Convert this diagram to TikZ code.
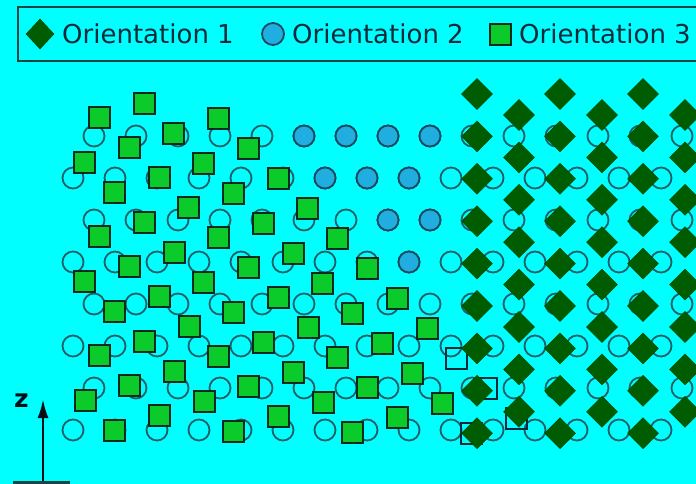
\documentclass[tikz,border=0pt]{standalone}
\usepackage{fontspec}
\setmainfont{DejaVu Sans}
\usetikzlibrary{arrows.meta,shapes.geometric}
\definecolor{bgc}{HTML}{00FFFF}
\definecolor{ringc}{HTML}{1F5F66}
\definecolor{bluef}{HTML}{20ADE0}
\definecolor{bluel}{HTML}{1A4A60}
\definecolor{greenf}{HTML}{0BCB2B}
\definecolor{greenl}{HTML}{0A2A20}
\definecolor{diaf}{HTML}{005C00}
\definecolor{txtc}{HTML}{0F2A3A}
\definecolor{axc}{HTML}{050F1A}
\definecolor{boxc}{HTML}{1A4545}
\definecolor{hollowc}{HTML}{102838}
\tikzset{
  ring/.style={circle, draw=ringc, line width=1.8pt, inner sep=0pt, minimum size=21pt},
  bluering/.style={circle, draw=bluel, fill=bluef, line width=1.8pt, inner sep=0pt, minimum size=21pt},
  sq/.style={rectangle, draw=greenl, fill=greenf, line width=2pt, inner sep=0pt, minimum size=21pt},
  hollowsq/.style={rectangle, draw=hollowc, line width=2pt, inner sep=0pt, minimum size=21pt},
  dia/.style={diamond, fill=diaf, draw=diaf!85!black, line width=0.6pt, inner sep=0pt, minimum width=31pt, minimum height=31pt},
  legtext/.style={anchor=base west, inner sep=0pt, text=txtc, font=\fontsize{26}{30}\selectfont}
}
\begin{document}
\begin{tikzpicture}[x=1pt,y=-1pt]
\fill[bgc] (0,0) rectangle (696,484);
\useasboundingbox (0,0) rectangle (696,484);

% lattice of hollow circles
\foreach \r in {0,2,4,6} {
  \foreach \k in {0,...,14} {
    \node[ring] at ({94+42*\k},{136+42*\r}) {};
  }
}
\foreach \r in {1,3,5,7} {
  \foreach \k in {0,...,14} {
    \node[ring] at ({73+42*\k},{136+42*\r}) {};
  }
}
% orientation 2 (blue circles)
\foreach \x/\y in {304/136,346/136,388/136,430/136,325/178,367/178,409/178,388/220,430/220,409/262} {
  \node[bluering] at (\x,\y) {};
}

% orientation 3 (green squares): rotated lattice
\foreach \j/\a/\b in {2/1/8, 1/0/10, 0/0/10, -1/1/10, -2/3/9, -3/4/9, -4/6/8, -5/7/8} {
  \foreach \i in {\a,...,\b} {
    \node[sq] at ({round(99+29.8*\i+44.6*\j)+0.5},{round(117+30*\i-14.5*\j)+0.5}) {};
  }
}
\foreach \i/\j in {9/2,10/2,11/2,11/1} {
  \node[hollowsq] at ({round(99+29.8*\i+44.6*\j)+0.5},{round(117+30*\i-14.5*\j)+0.5}) {};
}

% orientation 1 (diamonds)
\foreach \m in {0,1,2} {
  \foreach \n in {0,...,8} {
    \node[dia] at ({477+83*\m},{94+42.4*\n}) {};
  }
  \foreach \n in {0,...,7} {
    \node[dia] at ({519+83*\m},{115+42.4*\n}) {};
  }
}

% legend
\draw[boxc, line width=1.6pt] (18,7) rectangle (712,61);
\node[dia, minimum width=28pt, minimum height=30pt] (li1) at (40,34) {};
\node[legtext] (lt1) at (62,44) {Orientation 1};
\node[bluering, minimum size=22pt] (li2) at (273,34) {};
\node[legtext] (lt2) at (292,44) {Orientation 2};
\node[sq] (li3) at (500.5,34.5) {};
\node[legtext] (lt3) at (519,44) {Orientation 3};

% axis
\coordinate (zbase) at (43,490);
\coordinate (ztip) at (43,399);
\draw[axc, line width=2.6pt, -{Latex[length=19pt,width=11pt]}] (zbase) -- (ztip);
\node[text=axc, font=\fontsize{25}{27}\bfseries\selectfont, inner sep=0pt] (zlab) at (21.5,401) {z};
\coordinate (bl) at (13,482.5);
\coordinate (br) at (70,482.5);
\draw[boxc, line width=2.4pt] (bl) -- (br);
\end{tikzpicture}
\end{document}
